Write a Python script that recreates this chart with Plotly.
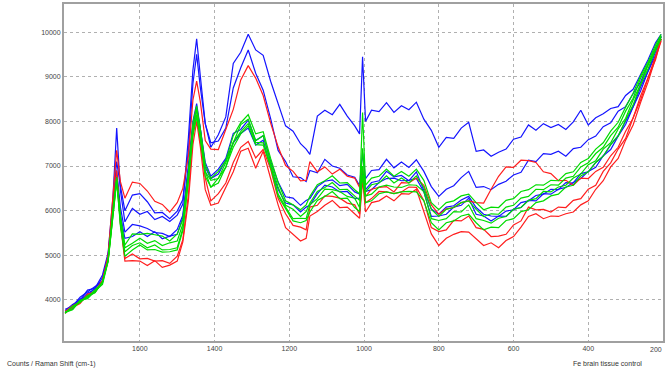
import plotly.graph_objects as go

# Raman shift grid (cm-1)
shift = [1800, 1780, 1760, 1740, 1720, 1700, 1685, 1672, 1662, 1652,
         1640, 1620, 1600, 1580, 1560, 1540, 1520, 1500, 1485,
         1470, 1458, 1448, 1438, 1425, 1410, 1390, 1370, 1350,
         1330, 1310, 1290, 1270, 1250, 1230, 1210, 1190, 1170,
         1155, 1145, 1125, 1105, 1085, 1065, 1045, 1025, 1012,
         1004, 996, 980, 960, 940, 920, 900, 880, 860,
         840, 820, 800, 780, 760, 740, 720, 700, 680,
         660, 640, 620, 600, 580, 560, 540, 520, 500,
         480, 460, 440, 420, 400, 380, 360, 340, 320,
         300, 280, 260, 240, 220, 205]

blue_1 = [3760, 3900, 3990, 4220, 4260, 4560, 5050, 6300, 7850, 6450,
          5750, 6050, 5920, 5980, 5800, 5870, 5760, 5900, 6150,
          7650, 9150, 9850, 9000, 7950, 7420, 7700, 8100, 9300,
          9550, 9950, 9600, 9480, 8900, 8380, 7900, 7780, 7500,
          7380, 7260, 8120, 8250, 8150, 8380, 8120, 7900, 7720,
          9450, 8000, 8250, 8220, 8420, 8200, 8350, 8260, 8430,
          8050, 7800, 7420, 7640, 7620, 7850, 7980, 7330, 7360,
          7220, 7310, 7380, 7600, 7650, 7920, 7800, 7950, 7860,
          7930, 7820, 7990, 8250, 7920, 8080, 8170, 8290, 8330,
          8580, 8720, 9050, 9380, 9760, 9950]
blue_2 = [3790, 3860, 4060, 4180, 4300, 4420, 4980, 6200, 7100, 6550,
          6000, 6350, 6380, 6200, 5950, 5960, 5820, 5990, 6250,
          7350, 8850, 9500, 8750, 7950, 7520, 7560, 7850, 8750,
          9200, 9600, 9080, 8700, 8060, 7350, 7100, 6760, 6740,
          6650, 6900, 6850, 7150, 7000, 6950, 6800, 6750, 6560,
          7300, 6720, 6900, 6920, 7150, 6960, 7090, 6970, 7140,
          6880, 6540, 6320, 6480, 6560, 6740, 6880, 6520, 6540,
          6470, 6590, 6660, 6800, 6860, 7130, 7100, 7280, 7260,
          7330, 7220, 7390, 7420, 7590, 7670, 7880, 7970, 8230,
          8330, 8620, 8880, 9270, 9640, 9900]
blue_3 = [3730, 3810, 4020, 4080, 4280, 4430, 4960, 6150, 6900, 6080,
          5520, 5690, 5660, 5600, 5510, 5490, 5420, 5580, 5900,
          7030, 8000, 8400, 7870, 7080, 6770, 6930, 7170, 7730,
          7820, 8030, 7570, 7680, 7110, 6640, 6310, 6280, 6120,
          6230, 6270, 6540, 6660, 6690, 6560, 6590, 6420, 6370,
          6900, 6470, 6630, 6670, 6880, 6760, 6790, 6670, 6870,
          6470, 6040, 5920, 6080, 6110, 6240, 6320, 6070, 5920,
          5880, 5870, 5990, 6020, 6180, 6220, 6340, 6370, 6480,
          6470, 6630, 6620, 6830, 6870, 7080, 7220, 7480, 7680,
          8020, 8330, 8770, 9130, 9560, 9900]
blue_4 = [3710, 3880, 3990, 4150, 4240, 4500, 4990, 6100, 6800, 5900,
          5380, 5420, 5530, 5420, 5530, 5370, 5430, 5470, 5850,
          6920, 7880, 8300, 7820, 6970, 6720, 6820, 7130, 7520,
          7730, 7850, 7470, 7580, 6970, 6480, 6170, 6130, 5970,
          6080, 6120, 6380, 6570, 6530, 6420, 6430, 6270, 6280,
          6800, 6430, 6470, 6630, 6720, 6730, 6670, 6680, 6720,
          6420, 5870, 5880, 5920, 6080, 6120, 6280, 5920, 5880,
          5770, 5880, 5870, 6030, 6070, 6230, 6220, 6380, 6370,
          6480, 6520, 6630, 6720, 6880, 6970, 7230, 7370, 7670,
          7930, 8320, 8680, 9120, 9480, 9850]

red_1 = [3710, 3830, 3920, 4130, 4170, 4430, 5000, 6250, 7350, 6650,
         6280, 6640, 6610, 6440, 6210, 6140, 5970, 6180, 6500,
         7230, 8480, 8900, 8430, 7570, 7380, 7370, 7830, 8270,
         8930, 9250, 8970, 8580, 7960, 7430, 7010, 6880, 6670,
         6680, 7100, 6870, 6980, 6820, 6930, 6770, 6730, 6520,
         7000, 6320, 6480, 6520, 6540, 6420, 6630, 6620, 6730,
         6570, 6130, 5920, 6040, 6070, 6180, 6220, 6180, 6170,
         6480, 6770, 6980, 6970, 7130, 7120, 7080, 6870, 6830,
         6670, 6680, 6570, 6730, 6720, 6880, 6970, 7230, 7420,
         7780, 8070, 8570, 8980, 9460, 9850]
red_2 = [3700, 3850, 3970, 4080, 4180, 4420, 4900, 6050, 6900, 5700,
         4870, 4880, 4870, 4770, 4880, 4730, 4780, 4870, 5300,
         6230, 7480, 8000, 7420, 6470, 6120, 6170, 6530, 6870,
         7330, 7400, 6950, 7330, 6720, 6130, 5620, 5480, 5320,
         5380, 5880, 5980, 6120, 6230, 6070, 6080, 5920, 5830,
         6700, 5970, 6180, 6220, 6330, 6220, 6380, 6370, 6480,
         5970, 5480, 5220, 5380, 5470, 5530, 5520, 5380, 5220,
         5280, 5170, 5330, 5420, 5630, 5870, 5930, 5820, 5880,
         5870, 5930, 5970, 6130, 6220, 6480, 6670, 6980, 7170,
         7580, 7920, 8420, 8880, 9420, 9800]
red_3 = [3740, 3870, 3950, 4110, 4200, 4440, 4920, 6000, 6800, 5750,
         4930, 5030, 4920, 4930, 4870, 4880, 4820, 4980, 5350,
         6370, 7720, 8150, 7570, 6730, 6220, 6380, 6620, 7080,
         7420, 7550, 7180, 7370, 6930, 6270, 5930, 5670, 5630,
         5570, 6080, 6120, 6330, 6320, 6280, 6170, 6130, 5920,
         6800, 6180, 6270, 6430, 6420, 6380, 6420, 6530, 6520,
         6230, 5620, 5530, 5570, 5780, 5770, 5880, 5620, 5580,
         5420, 5430, 5470, 5680, 5770, 6080, 6020, 6030, 5970,
         6080, 6070, 6230, 6270, 6480, 6570, 6880, 7070, 7380,
         7620, 8080, 8480, 8970, 9380, 9850]

green_1 = [3720, 3780, 3980, 4050, 4230, 4380, 4900, 6050, 6750, 5900,
           5230, 5480, 5470, 5490, 5460, 5430, 5320, 5480, 5800,
           6880, 7970, 8350, 7820, 7030, 6720, 6880, 7120, 7680,
           7970, 8150, 7720, 7770, 7170, 6630, 6220, 6130, 6020,
           6130, 6320, 6580, 6670, 6780, 6620, 6630, 6470, 6380,
           8200, 6570, 6730, 6770, 6930, 6770, 6880, 6770, 6930,
           6680, 6180, 6020, 6180, 6220, 6330, 6370, 6180, 6020,
           6080, 6070, 6230, 6270, 6430, 6470, 6580, 6570, 6680,
           6670, 6830, 6870, 7080, 7170, 7380, 7520, 7780, 7980,
           8320, 8630, 9020, 9330, 9710, 9950]
green_2 = [3700, 3850, 3940, 4080, 4160, 4400, 4880, 6000, 6700, 5800,
           5170, 5270, 5380, 5270, 5330, 5220, 5280, 5320, 5700,
           6820, 7830, 8250, 7780, 6870, 6680, 6720, 7080, 7520,
           7930, 8050, 7570, 7680, 7070, 6530, 6120, 6030, 5870,
           5980, 6170, 6430, 6520, 6630, 6470, 6480, 6320, 6230,
           7400, 6420, 6580, 6620, 6780, 6620, 6730, 6620, 6780,
           6520, 6030, 5870, 6030, 6070, 6180, 6220, 6030, 5870,
           5930, 5920, 6080, 6120, 6280, 6320, 6480, 6470, 6580,
           6570, 6730, 6770, 6980, 7070, 7280, 7420, 7680, 7870,
           8230, 8520, 8970, 9280, 9660, 9900]
green_3 = [3730, 3790, 3990, 4030, 4200, 4350, 4860, 5950, 6650, 5700,
           5080, 5220, 5280, 5170, 5230, 5120, 5130, 5170, 5600,
           6680, 7770, 8150, 7620, 6880, 6520, 6730, 6970, 7530,
           7770, 7950, 7530, 7520, 7030, 6370, 6080, 5820, 5830,
           5820, 6130, 6270, 6480, 6470, 6430, 6320, 6280, 6070,
           7000, 6330, 6370, 6530, 6570, 6530, 6520, 6580, 6570,
           6430, 5820, 5780, 5820, 5980, 5970, 6130, 5820, 5780,
           5720, 5830, 5870, 6030, 6070, 6230, 6270, 6430, 6420,
           6530, 6570, 6730, 6820, 7030, 7120, 7380, 7520, 7830,
           8070, 8480, 8830, 9270, 9590, 9900]
green_4 = [3710, 3860, 3960, 4100, 4170, 4410, 4870, 5980, 6700, 5650,
           4980, 5120, 5230, 5120, 5130, 5070, 5080, 5120, 5550,
           6670, 7680, 8100, 7630, 6770, 6530, 6620, 6980, 7420,
           7720, 7900, 7480, 7470, 6980, 6320, 6030, 5770, 5730,
           5780, 5970, 6230, 6320, 6430, 6270, 6280, 6070, 5980,
           6800, 6180, 6220, 6380, 6420, 6380, 6420, 6430, 6420,
           6220, 5730, 5570, 5730, 5770, 5880, 5920, 5730, 5570,
           5630, 5620, 5780, 5820, 5980, 6020, 6180, 6220, 6330,
           6370, 6530, 6570, 6780, 6870, 7080, 7220, 7480, 7670,
           8030, 8370, 8820, 9180, 9610, 9850]

x_ticks = [1600, 1400, 1200, 1000, 800, 600, 400, 200]
y_ticks = [4000, 5000, 6000, 7000, 8000, 9000, 10000]

series = [
    (blue_1, "#1414ff"), (blue_2, "#1414ff"), (blue_3, "#1414ff"), (blue_4, "#1414ff"),
    (red_1, "#ff1e1e"), (red_2, "#ff1e1e"), (red_3, "#ff1e1e"),
    (green_1, "#00dc00"), (green_2, "#00dc00"), (green_3, "#00dc00"), (green_4, "#00dc00"),
]

fig = go.Figure()
for vals, col in series:
    assert len(vals) == len(shift), (len(vals), len(shift))
    fig.add_trace(go.Scatter(x=shift, y=vals, mode="lines",
                             line=dict(color=col, width=1.2),
                             showlegend=False, hoverinfo="skip"))

FONT = "Liberation Sans, Arial, sans-serif"
tick_font = dict(family=FONT, size=7, color="#444444")
axis_common = dict(showgrid=True, gridcolor="#b0b0b0", griddash="dot", gridwidth=1,
                   showline=True, linecolor="#a0a0a0", linewidth=2, mirror=True,
                   zeroline=False, ticks="", tickfont=tick_font, tickformat="d")
fig.update_layout(
    width=667, height=372,
    margin=dict(l=64, r=2, t=4, b=31),
    paper_bgcolor="white", plot_bgcolor="white",
    xaxis=dict(range=[1803, 200], tickvals=x_ticks, **axis_common),
    yaxis=dict(range=[3080, 10630], tickvals=y_ticks, **axis_common),
)

pw = 667 - 64 - 2
ph = 372 - 4 - 31
# right-most tick label, kept fully inside the page at the right edge
fig.add_annotation(text=str(x_ticks[-1]), xref="paper", yref="paper",
                   x=(666 - 64) / pw, y=(341 - 349) / ph, showarrow=False,
                   xanchor="right", yanchor="middle", font=tick_font)
fig.add_annotation(text="Counts / Raman Shift (cm-1)", xref="paper", yref="paper",
                   x=(5 - 64) / pw, y=(341 - 364) / ph, showarrow=False,
                   xanchor="left", yanchor="middle",
                   font=dict(family=FONT, size=7, color="#333333"))
fig.add_annotation(text="Fe brain tissue control", xref="paper", yref="paper",
                   x=(573 - 64) / pw, y=(341 - 363) / ph, showarrow=False,
                   xanchor="left", yanchor="middle",
                   font=dict(family=FONT, size=7, color="#333333"))

fig.write_html("out.html", config={"displayModeBar": False},
               post_script="document.body.style.margin='0';document.body.style.padding='0';document.body.style.overflow='hidden';")
